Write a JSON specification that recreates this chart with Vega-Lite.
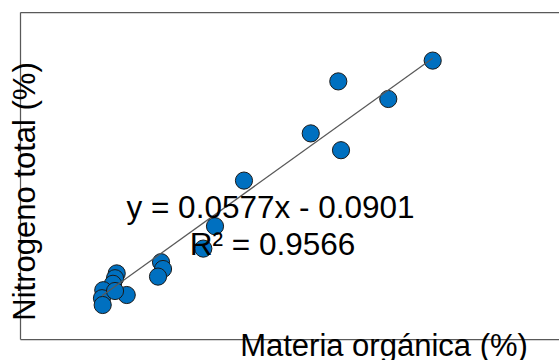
{
  "$schema": "https://vega.github.io/schema/vega-lite/v6.json",
  "width": 539,
  "height": 327,
  "autosize": {"type": "none"},
  "padding": {"left": 20, "top": 12, "right": 0, "bottom": 21},
  "background": "white",
  "config": {"view": {"stroke": null}, "font": "Liberation Sans"},
  "datasets": {
    "points": [
      {"mo": 7.644, "nt": 0.348},
      {"mo": 6.175, "nt": 0.322},
      {"mo": 6.953, "nt": 0.300},
      {"mo": 5.746, "nt": 0.257},
      {"mo": 6.217, "nt": 0.236},
      {"mo": 4.707, "nt": 0.198},
      {"mo": 4.256, "nt": 0.141},
      {"mo": 4.074, "nt": 0.113},
      {"mo": 3.416, "nt": 0.096},
      {"mo": 3.447, "nt": 0.0875},
      {"mo": 3.369, "nt": 0.078},
      {"mo": 2.726, "nt": 0.082},
      {"mo": 2.700, "nt": 0.076},
      {"mo": 2.668, "nt": 0.069},
      {"mo": 2.882, "nt": 0.055},
      {"mo": 2.517, "nt": 0.061},
      {"mo": 2.497, "nt": 0.051},
      {"mo": 2.508, "nt": 0.0425},
      {"mo": 2.700, "nt": 0.060}
    ],
    "trend": [
      {"mo": 2.497, "nt": 0.0540},
      {"mo": 7.644, "nt": 0.3510}
    ],
    "labels": [
      {"mo": 5.120, "nt": 0.151, "text": "y = 0.0577x - 0.0901"},
      {"mo": 5.151, "nt": 0.105, "text": "R² = 0.9566"}
    ]
  },
  "resolve": {"axis": {"x": "independent"}},
  "layer": [
    {
      "data": {"name": "points"},
      "mark": {"type": "circle", "size": 295, "fill": "#0070C0", "stroke": "#1a1a1a", "strokeWidth": 1, "opacity": 1},
      "encoding": {
        "x": {"field": "mo", "type": "quantitative",
          "scale": {"domain": [1.221, 9.610], "nice": false, "zero": false},
          "axis": {"orient": "bottom", "labels": false, "ticks": false, "grid": false, "domain": true,
            "domainColor": "#595959", "domainWidth": 1.25,
            "title": "Materia orgánica (%)", "titleFontSize": 31, "titleFontWeight": "normal",
            "titleColor": "black", "titleBaseline": "alphabetic", "titleAlign": "center",
            "titleX": 363.5, "titleY": 16}},
        "y": {"field": "nt", "type": "quantitative",
          "scale": {"domain": [0, 0.40875], "nice": false, "zero": false},
          "axis": {"labels": false, "ticks": false, "grid": false, "domain": true,
            "domainColor": "#595959", "domainWidth": 1.25,
            "title": "Nitrogeno total (%)", "titleFontSize": 31, "titleFontWeight": "normal",
            "titleColor": "black", "titleBaseline": "alphabetic", "titleAlign": "center",
            "titleAngle": 270, "titleX": 14, "titleY": 179}}
      }
    },
    {
      "data": {"name": "trend"},
      "mark": {"type": "line", "color": "#595959", "strokeWidth": 1.25},
      "encoding": {
        "x": {"field": "mo", "type": "quantitative",
          "scale": {"domain": [1.221, 9.610], "nice": false, "zero": false},
          "axis": {"orient": "top", "labels": false, "ticks": false, "grid": false, "domain": true,
            "domainColor": "#595959", "domainWidth": 1.25, "title": null}},
        "y": {"field": "nt", "type": "quantitative"}
      }
    },
    {
      "data": {"name": "labels"},
      "mark": {"type": "text", "fontSize": 31.5, "align": "center", "baseline": "alphabetic", "color": "black"},
      "encoding": {
        "x": {"field": "mo", "type": "quantitative", "axis": null},
        "y": {"field": "nt", "type": "quantitative"},
        "text": {"field": "text"}
      }
    }
  ]
}
